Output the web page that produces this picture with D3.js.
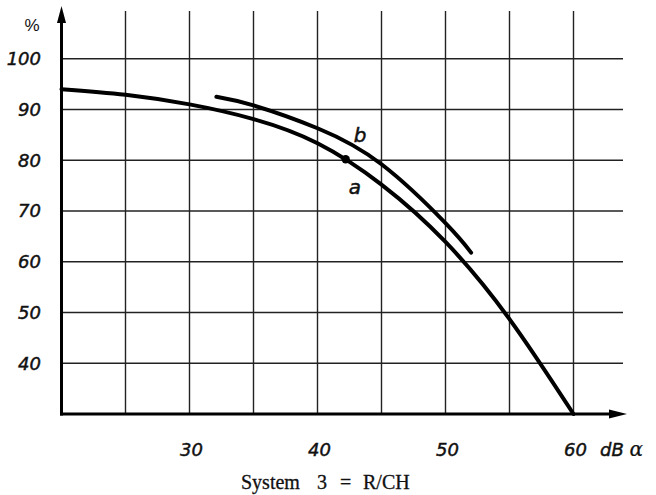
<!DOCTYPE html>
<html>
<head>
<meta charset="utf-8">
<script src="https://cdn.jsdelivr.net/npm/d3@7"></script>
<style>
  html, body { margin: 0; padding: 0; background: #fff; }
  svg { display: block; }
  .tick-label { font-family: "DejaVu Sans", sans-serif; font-style: oblique; font-size: 18px; fill: #111; stroke: #111; stroke-width: 0.45px; }
  .curve-label { font-family: "DejaVu Sans", sans-serif; font-style: oblique; font-size: 20px; fill: #111; stroke: #111; stroke-width: 0.5px; }
  .caption { font-family: "Liberation Serif", "DejaVu Serif", serif; font-size: 20px; fill: #111; stroke: #111; stroke-width: 0.3px; }
</style>
</head>
<body>
<svg id="chart" width="656" height="495"></svg>
<script>
// Attenuation (dB) against percentage, two curves a and b
const xTicks = [30, 40, 50, 60];
const yTicks = [40, 50, 60, 70, 80, 90, 100];
const xGrid = [25, 30, 35, 40, 45, 50, 55, 60];

const curveA_dB  = [20, 25, 30, 35, 40, 45, 50, 55, 60];
const curveA_pct = [94.0, 92.9, 91.0, 88.1, 83.35, 75.2, 63.9, 48.7, 30];

const curveB_dB  = [32.1, 35, 40, 45, 50, 52];
const curveB_pct = [92.5, 90.8, 86.3, 79.2, 67.6, 61.8];

const markPoint = { dB: 42.2, pct: 80.2 };

const captionParts = ["System", "3", "=", "R/CH"];

const svg = d3.select("#chart");

const x = d3.scaleLinear().domain([20, 60]).range([61.5, 573.5]);
const y = d3.scaleLinear().domain([30, 100]).range([414, 58.7]);

const xEnd = 623;
const yTop = y(109.4);

// grid
const grid = svg.append("g").attr("stroke", "#222").attr("stroke-width", 1.4);
grid.selectAll("line.v").data(xGrid).join("line")
  .attr("class", "v")
  .attr("x1", d => x(d)).attr("x2", d => x(d))
  .attr("y1", yTop).attr("y2", y(30));
grid.selectAll("line.h").data(yTicks).join("line")
  .attr("class", "h")
  .attr("x1", x(20)).attr("x2", xEnd)
  .attr("y1", d => y(d)).attr("y2", d => y(d));

// axes with arrow heads
const axes = svg.append("g").attr("stroke", "#000").attr("stroke-width", 3).attr("fill", "none");
axes.append("line").attr("x1", x(20)).attr("x2", x(20)).attr("y1", y(30) + 1.5).attr("y2", 18);
axes.append("line").attr("x1", x(20) - 1.5).attr("x2", 612).attr("y1", y(30)).attr("y2", y(30));
svg.append("path").attr("fill", "#000")
  .attr("d", `M${x(20)},6 L${x(20) - 4.5},23 L${x(20) + 4.5},23 Z`);
svg.append("path").attr("fill", "#000")
  .attr("d", `M627,${y(30)} L609,${y(30) - 4.5} L609,${y(30) + 4.5} Z`);

// curves
const line = d3.line()
  .x(d => x(d[0])).y(d => y(d[1]))
  .curve(d3.curveNatural);

const dataA = curveA_dB.map((d, i) => [d, curveA_pct[i]]);
const dataB = curveB_dB.map((d, i) => [d, curveB_pct[i]]);

svg.append("path").datum(dataA)
  .attr("d", line).attr("fill", "none").attr("stroke", "#000")
  .attr("stroke-width", 4).attr("stroke-linecap", "round");
svg.append("path").datum(dataB)
  .attr("d", line).attr("fill", "none").attr("stroke", "#000")
  .attr("stroke-width", 4).attr("stroke-linecap", "round");

svg.append("circle")
  .attr("cx", x(markPoint.dB)).attr("cy", y(markPoint.pct)).attr("r", 4.2)
  .attr("fill", "#000");

// curve labels
svg.append("text").attr("class", "curve-label")
  .attr("x", 360).attr("y", 142).attr("text-anchor", "middle").text("b");
svg.append("text").attr("class", "curve-label")
  .attr("x", 355).attr("y", 194).attr("text-anchor", "middle").text("a");

// y tick labels
svg.selectAll("text.ylab").data(yTicks).join("text")
  .attr("class", "tick-label ylab")
  .attr("x", 41).attr("y", d => y(d) + 6.5)
  .attr("text-anchor", "end")
  .text(d => d);

svg.append("text")
  .attr("x", 32).attr("y", 31).attr("text-anchor", "middle")
  .style("font-family", "'Liberation Sans', sans-serif").style("font-size", "17px").style("fill", "#111")
  .text("%");

// x tick labels
svg.selectAll("text.xlab").data(xTicks).join("text")
  .attr("class", "tick-label xlab")
  .attr("x", d => x(d) + 2).attr("y", 456)
  .attr("text-anchor", "middle")
  .text(d => d);

const unit = svg.append("text").attr("class", "tick-label")
  .attr("x", 600).attr("y", 456);
unit.append("tspan").text("dB ");
unit.append("tspan")
  .style("font-family", "'DejaVu Serif', 'Liberation Serif', serif")
  .style("font-style", "italic")
  .style("font-size", "20px")
  .style("stroke-width", "0.2px")
  .text("α");

// caption, with wide spacing round the equals sign
const captionX = [241, 317, 340, 363];
const cap = svg.append("text").attr("class", "caption").attr("y", 489);
cap.selectAll("tspan").data(captionParts).join("tspan")
  .attr("x", (d, i) => captionX[i])
  .text(d => d);
</script>
</body>
</html>
